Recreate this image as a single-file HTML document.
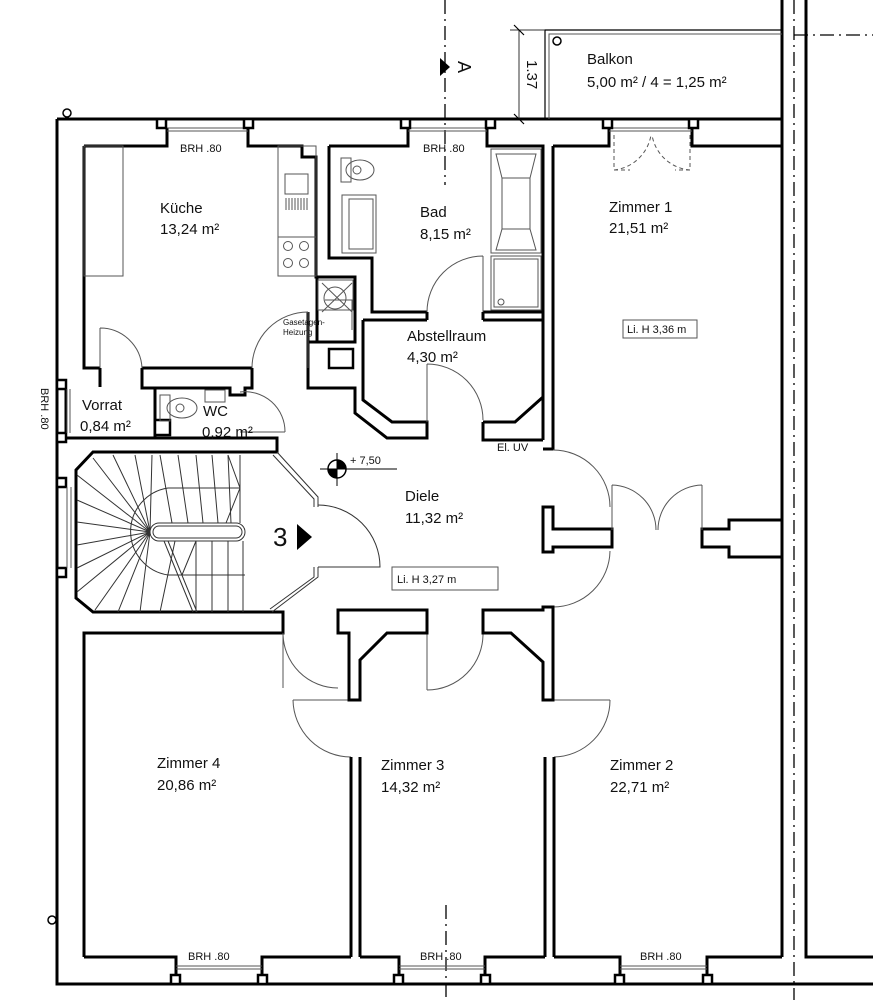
<!DOCTYPE html>
<html><head><meta charset="utf-8"><style>
html,body{margin:0;padding:0;background:#fff;}
svg{display:block;}
text{font-family:"Liberation Sans",sans-serif;fill:#111;}
.w{fill:none;stroke:#000;stroke-width:3;stroke-linejoin:miter;}
.t{fill:none;stroke:#555;stroke-width:1;}
.p{fill:#fff;stroke:#000;stroke-width:2.5;}
.lb{font-size:15px;}
.sm{font-size:11px;}
</style></head><body>
<svg width="873" height="1000" viewBox="0 0 873 1000" xmlns="http://www.w3.org/2000/svg">
<!-- outer -->
<path class="w" d="M57,119 H782 M57,119 V984 H873"/>
<path class="w" d="M782,0 V957 M806,0 V957 H873"/>
<path d="M794,0 V1000" stroke="#000" stroke-width="1.3" stroke-dasharray="14,5,2,5" fill="none"/>
<path d="M794,35 H873" stroke="#000" stroke-width="1.3" stroke-dasharray="14,5,2,5" fill="none"/>
<!-- balcony -->
<path class="w" d="M545,119 V30 H782" style="stroke-width:1.2"/>
<path class="t" d="M549,119 V34 H782"/>
<circle cx="557" cy="41" r="4" fill="none" stroke="#000" stroke-width="1.5"/>
<text class="lb" x="587" y="64">Balkon</text>
<text class="lb" x="587" y="87">5,00 m² / 4 =  1,25 m²</text>
<path class="t" d="M519,30 V119 M510,30 H545" style="stroke:#333"/>
<path d="M514,25 L524,35 M514,114 L524,124" stroke="#000" stroke-width="1.2"/>
<text class="lb" transform="translate(527,60) rotate(90)">1.37</text>
<!-- section A -->
<path d="M445,0 V185" stroke="#000" stroke-width="1.3" stroke-dasharray="14,5,2,5" fill="none"/>
<path d="M446,905 V1000" stroke="#000" stroke-width="1.3" stroke-dasharray="14,5,2,5" fill="none"/>
<polygon points="440,58 450,67 440,76" fill="#000"/>
<text class="lb" font-size="18" transform="translate(458,61) rotate(90)" style="font-size:18px">A</text>
<!-- top inner -->
<path class="w" d="M84,146 H167 V128 M248,128 V146 H302 V157 H316 V277 H355 V327"/>
<path class="w" d="M329,146 H408 V128 M487,128 V146 H543 V440 M553,146 H609 V128 M692,128 V146 H782"/>
<path class="w" d="M329,146 V258 H372 V312 H427 M483,312 H543 M363,320 H427 M483,320 H543"/>
<path class="w" d="M553,146 V449 H543"/>
<!-- windows top -->
<g class="t"><path d="M167,128 H248 M167,131 H248 M408,128 H487 M408,131 H487 M609,128 H692 M609,131 H692"/></g>
<g class="p"><rect x="157" y="119" width="9" height="9"/><rect x="244" y="119" width="9" height="9"/><rect x="401" y="119" width="9" height="9"/><rect x="486" y="119" width="9" height="9"/><rect x="603" y="119" width="9" height="9"/><rect x="689" y="119" width="9" height="9"/></g>
<text class="sm" x="180" y="152">BRH .80</text>
<text class="sm" x="423" y="152">BRH .80</text>
<!-- Zimmer1 door dashed -->
<path d="M614,135 V170 H630 M690,135 V170 H675 M614,170 A42,42 0 0 0 651,135 M690,170 A42,42 0 0 1 652,135" stroke="#555" stroke-width="1" stroke-dasharray="4,3" fill="none"/>
<!-- kitchen -->
<path class="w" d="M84,146 V368 H100 M142,368 H252 M308,312 V342 H317 V277"/>
<path class="w" d="M317,342 H355 V327 M308,342 V388 H355 V413 L387,438 H427 V422 H392 L363,400 V320"/>
<path class="w" d="M427,312 V320 M483,312 V320 M483,422 V440 H543 M483,422 H515 L543,397"/>
<rect x="329" y="349" width="24" height="19" class="w" style="stroke-width:2.5"/>
<g class="t">
<rect x="84" y="146" width="39" height="130"/>
<rect x="278" y="146" width="38" height="130"/>
<path d="M278,237 H316"/>
<rect x="285" y="174" width="23" height="20"/>
<path d="M286,198 V210 M289,198 V210 M292,198 V210 M295,198 V210 M298,198 V210 M301,198 V210 M304,198 V210 M307,198 V210"/>
<circle cx="288" cy="246" r="4.5"/><circle cx="304" cy="246" r="4.5"/><circle cx="288" cy="263" r="4.5"/><circle cx="304" cy="263" r="4.5"/>
<rect x="318" y="280" width="35" height="30"/><circle cx="335" cy="298" r="11"/><path d="M322,283 L352,312 M352,283 L322,312 M325,300 H352 V330"/>
<path d="M100,328 V368 M100,328 A42,42 0 0 1 142,368"/>
<path d="M308,312 V368 M308,312 A56,56 0 0 0 252,368"/>
<path d="M483,256 V312 M483,256 A56,56 0 0 0 427,312"/>
<path d="M427,364 V422 M427,364 A56,56 0 0 1 483,420"/>
</g>
<text x="283" y="325" style="font-size:8px">Gasetagen-</text>
<text x="283" y="335" style="font-size:8px">Heizung</text>
<text class="lb" x="160" y="213">Küche</text>
<text class="lb" x="160" y="234">13,24 m²</text>
<!-- bath fixtures -->
<g class="t">
<rect x="341" y="158" width="10" height="24"/><ellipse cx="360" cy="170" rx="14" ry="10"/><circle cx="357" cy="170" r="4"/>
<rect x="342" y="195" width="34" height="58"/><rect x="349" y="199" width="24" height="50"/>
<rect x="491" y="149" width="50" height="104"/><path d="M496,154 H536 L530,178 V229 L536,250 H496 L502,229 V178 Z M502,178 H530 M502,229 H530"/>
<rect x="491" y="256" width="50" height="54"/><rect x="494" y="259" width="44" height="48"/><circle cx="501" cy="302" r="3"/>
</g>
<text class="lb" x="420" y="217">Bad</text>
<text class="lb" x="420" y="239">8,15 m²</text>
<text class="lb" x="609" y="212">Zimmer 1</text>
<text class="lb" x="609" y="233">21,51 m²</text>
<text class="lb" x="407" y="341">Abstellraum</text>
<text class="lb" x="407" y="362">4,30 m²</text>
<rect x="623" y="320" width="74" height="18" class="t"/>
<text class="sm" x="627" y="333">Li. H 3,36 m</text>
<text class="sm" x="497" y="451">El. UV</text>
<!-- Vorrat / WC -->
<path class="w" d="M100,368 V387 M142,368 V388 H155 V438 M155,388 H230 V395 H245 V388 H252 V368"/>
<path class="w" d="M66,389 V433 M57,438 H277 V452 H93 L76,470 V598 L93,612 H283 V633 H84 V957"/>
<g class="p"><rect x="57" y="380" width="9" height="9"/><rect x="57" y="433" width="9" height="9"/><rect x="57" y="478" width="9" height="9"/><rect x="57" y="568" width="9" height="9"/><rect x="155" y="420" width="15" height="15"/></g>
<g class="t">
<path d="M67,389 V433 M70,389 V433 M67,487 V568 M71,487 V568"/>
<rect x="160" y="395" width="10" height="26"/><ellipse cx="182" cy="408" rx="15" ry="10"/><circle cx="180" cy="408" r="4"/>
<rect x="205" y="390" width="20" height="12"/>
<path d="M240,432 H285 M240,392 A40,40 0 0 1 285,432"/>
</g>
<text class="lb" x="82" y="410">Vorrat</text>
<text class="lb" x="80" y="431">0,84 m²</text>
<text class="lb" x="203" y="416">WC</text>
<text class="lb" x="202" y="437">0,92 m²</text>
<text class="sm" transform="translate(41,388) rotate(90)">BRH .80</text>
<!-- stairs -->
<g class="t" style="stroke:#333">
<path d="M277,452 L318,497 V507 M273,455 L314,499 V507 M318,567 V577 L272,612 M314,567 V577 L270,609"/>
<path d="M318,505 A62,62 0 0 1 380,567 H318"/>
<rect x="150" y="523" width="95" height="18" rx="9"/><rect x="153" y="526" width="89" height="12" rx="6"/>
<path d="M164,541 L193,612 M168,541 L197,612"/>
<path d="M240,488 H168 A44,44 0 0 0 168,575 H245"/>
<path d="M150,532 L93,458 M150,532 L113,455 M150,532 L135,455 M150,532 L152,455 M150,532 L77,475 M150,532 L77,500 M150,532 L77,522 M150,532 L77,545 M150,532 L77,568 M150,532 L77,592 M150,532 L95,610 M150,532 L118,612 M150,532 L140,612"/>
<path d="M160,455 L172,523 M178,455 L188,523 M196,455 L203,523 M212,455 L218,523 M228,455 L231,523 M240,455 V523 M228,455 L240,488 L226,523"/>
<path d="M175,541 L160,612 M196,541 V612 M212,541 V612 M228,541 V612 M243,541 V612 M196,541 L182,575"/>
</g>
<text x="273" y="546" style="font-size:26px">3</text>
<polygon points="297,524 312,537 297,550" fill="#000"/>
<!-- level mark -->
<circle cx="337" cy="469" r="9" fill="#fff" stroke="#000" stroke-width="1.5"/>
<path d="M337,469 V460 A9,9 0 0 1 346,469 Z M337,469 V478 A9,9 0 0 1 328,469 Z" fill="#000"/>
<path d="M320,469 H397 M337,453 V486" stroke="#000" stroke-width="1"/>
<text class="sm" x="350" y="464">+ 7,50</text>
<text class="lb" x="405" y="501">Diele</text>
<text class="lb" x="405" y="523">11,32 m²</text>
<rect x="392" y="567" width="106" height="23" class="t"/>
<text class="sm" x="397" y="583">Li. H  3,27 m</text>
<!-- Diele right -->
<path class="w" d="M553,449 V450 M543,507 V552 H553 V547 H612 V529 H553 V507 Z"/>
<path class="w" d="M782,520 H729 V529 H702 V547 H729 V557 H782"/>
<g class="t">
<path d="M553,450 A57,57 0 0 1 610,507 M610,551 A57,57 0 0 1 553,607"/>
<path d="M612,485 V530 M612,485 A45,45 0 0 1 656,530 M702,485 V530 M702,485 A45,45 0 0 0 658,530"/>
<path d="M283,633 V688 M283,633 A55,55 0 0 0 338,688 M427,633 V690 M483,633 A56,56 0 0 1 427,690"/>
<path d="M293,700 H349 M293,700 A58,58 0 0 0 351,757 M554,700 H610 M610,700 A57,57 0 0 1 554,757"/>
</g>
<!-- lower blocks -->
<path class="w" d="M338,610 H427 V633 H387 L360,660 V700 H349 V633 H338 Z"/>
<path class="w" d="M483,610 H543 V607 H553 V700 H543 V662 L511,633 H483 Z"/>
<path class="w" d="M351,757 V957 M360,757 V957 M545,757 V957 M554,757 V957"/>
<!-- bottom inner -->
<path class="w" d="M84,957 H176 V975 M262,975 V957 H351 M360,957 H399 V975 M485,975 V957 H545 M554,957 H620 V975 M707,975 V957 H782"/>
<g class="t"><path d="M176,966 H262 M176,969 H262 M399,966 H485 M399,969 H485 M620,966 H707 M620,969 H707"/></g>
<g class="p"><rect x="171" y="975" width="9" height="9"/><rect x="258" y="975" width="9" height="9"/><rect x="394" y="975" width="9" height="9"/><rect x="481" y="975" width="9" height="9"/><rect x="615" y="975" width="9" height="9"/><rect x="703" y="975" width="9" height="9"/></g>
<text class="sm" x="188" y="960">BRH .80</text>
<text class="sm" x="420" y="960">BRH .80</text>
<text class="sm" x="640" y="960">BRH .80</text>
<text class="lb" x="157" y="768">Zimmer 4</text>
<text class="lb" x="157" y="790">20,86 m²</text>
<text class="lb" x="381" y="770">Zimmer 3</text>
<text class="lb" x="381" y="792">14,32 m²</text>
<text class="lb" x="610" y="770">Zimmer 2</text>
<text class="lb" x="610" y="792">22,71 m²</text>
<circle cx="67" cy="113" r="4" fill="none" stroke="#000" stroke-width="1.5"/>
<circle cx="52" cy="920" r="4" fill="none" stroke="#000" stroke-width="1.5"/>
</svg>
</body></html>
